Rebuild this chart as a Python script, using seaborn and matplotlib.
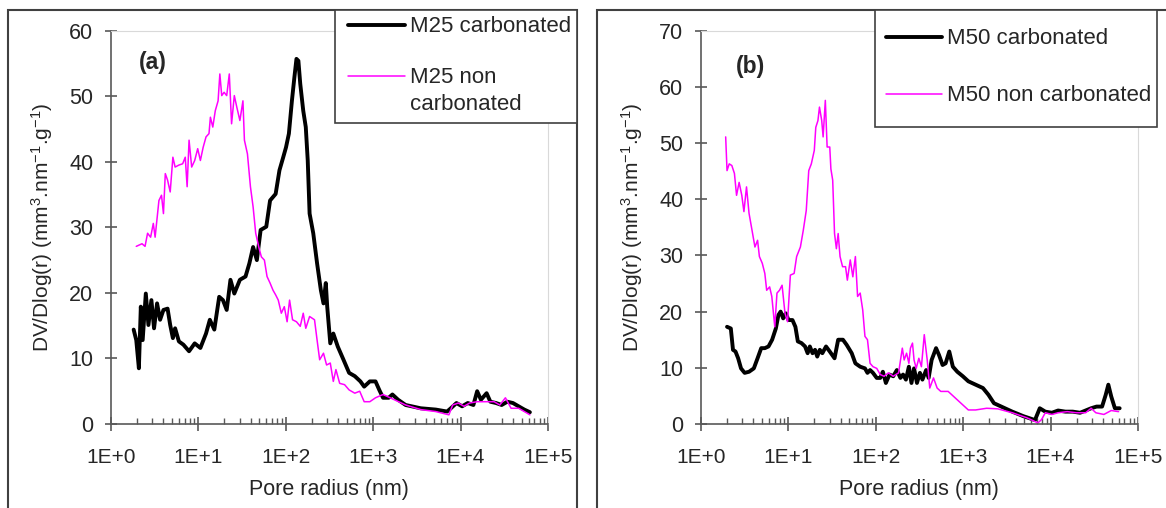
import matplotlib
matplotlib.use("Agg")
import matplotlib.pyplot as plt
from matplotlib.lines import Line2D
from matplotlib.patches import Rectangle
from matplotlib.ticker import FixedLocator, FuncFormatter, LogLocator, NullFormatter
import numpy as np
import pandas as pd
import seaborn as sns

# ---- data (pore radius in nm, DV/Dlog(r)) ----
m25_carb_radius = [1.83, 1.96, 2.10, 2.21, 2.32, 2.52, 2.70, 2.92, 3.13, 3.39, 3.67, 4.01, 4.47, 4.79,
                   5.14, 5.45, 6.02, 6.78, 7.87, 9.13, 10.6, 12.3, 13.6, 15.3, 17.4, 19.2, 21.2, 23.4,
                   25.9, 30.0, 34.8, 38.5, 42.5, 46.9, 51.8, 60.1, 66.4, 76.9, 85.0, 93.9, 101, 109,
                   118, 126, 133, 140, 147, 159, 170, 179, 188, 207, 229, 253, 271, 288, 299, 324,
                   351, 395, 459, 532, 618, 716, 791, 918, 1066, 1177, 1300, 1507, 1664, 1932, 2355,
                   3500, 5210, 7015, 7745, 8980, 10420, 12100, 14030, 15490, 17110, 19860, 21930,
                   25460, 29510, 34270, 39720, 46130, 53580, 62090]
m25_carb_dv = [14.4, 12.8, 8.5, 17.9, 12.8, 19.9, 15.1, 18.9, 14.6, 18.4, 15.9, 17.4, 17.6, 15.1,
               13.1, 14.6, 12.6, 12.1, 11.1, 12.3, 11.6, 13.8, 15.9, 14.4, 19.4, 18.9, 17.4, 22.0,
               19.9, 22.0, 22.5, 24.5, 27.0, 25.0, 29.6, 30.1, 34.1, 35.1, 38.7, 40.7, 42.2, 44.3,
               49.3, 52.9, 55.7, 55.4, 51.9, 47.8, 45.3, 40.2, 32.1, 29.1, 24.5, 20.4, 18.4, 21.5,
               17.9, 12.3, 13.8, 11.8, 9.8, 7.8, 7.3, 6.5, 5.7, 6.5, 6.5, 5.2, 4.0, 4.0, 4.5, 3.7,
               2.9, 2.4, 2.2, 1.9, 2.4, 3.2, 2.7, 3.2, 2.9, 5.0, 3.7, 4.7, 3.4, 3.2, 2.9, 3.4, 3.2,
               2.7, 2.2, 1.8]

m25_noncarb_radius = [1.96, 2.28, 2.47, 2.64, 2.86, 3.07, 3.22, 3.56, 3.81, 4.01, 4.21, 4.47, 4.79,
                      5.14, 5.45, 6.02, 6.65, 7.12, 7.48, 7.87, 8.43, 9.13, 9.88, 10.6, 11.4, 12.3,
                      13.3, 13.8, 14.7, 15.7, 16.9, 17.7, 18.6, 19.8, 21.2, 22.7, 24.1, 25.9, 27.7,
                      30.0, 32.5, 33.8, 36.6, 39.6, 42.5, 45.5, 49.3, 52.8, 57.2, 61.3, 66.4, 71.8,
                      76.9, 82.4, 89.3, 96.6, 104, 111, 120, 133, 147, 159, 170, 188, 214, 229, 245,
                      271, 294, 324, 351, 376, 415, 472, 532, 618, 703, 791, 918, 1066, 1300, 1750,
                      2355, 3500, 5210, 7360, 8130, 9440, 10960, 12710, 15490, 18880, 24210, 28110,
                      32590, 37840, 46130, 53580, 62090]
m25_noncarb_dv = [27.1, 27.5, 27.1, 29.1, 28.5, 30.6, 28.5, 34.1, 34.9, 32.1, 38.2, 37.2, 35.4,
                  40.7, 39.2, 39.5, 39.7, 40.7, 36.2, 43.3, 39.2, 40.2, 42.0, 40.2, 42.2, 43.8,
                  44.3, 46.8, 45.3, 47.8, 49.3, 53.4, 50.1, 50.6, 50.1, 53.4, 45.8, 50.1, 48.3,
                  46.3, 49.3, 43.3, 41.2, 36.2, 33.1, 29.1, 27.0, 25.5, 25.0, 22.5, 21.5, 20.4,
                  19.7, 18.9, 16.9, 17.9, 15.6, 18.9, 15.9, 15.6, 14.9, 16.9, 14.6, 16.4, 15.9,
                  12.8, 9.8, 10.8, 9.0, 9.3, 6.5, 8.3, 6.2, 6.0, 5.2, 4.7, 5.0, 3.4, 3.4, 4.0, 4.5,
                  3.7, 2.9, 2.2, 1.9, 1.4, 2.9, 3.2, 2.7, 3.2, 3.4, 3.4, 3.4, 2.9, 4.0, 2.4, 2.4,
                  1.9, 1.4]

m50_carb_radius = [2.00, 2.21, 2.34, 2.50, 2.68, 2.89, 3.18, 3.57, 4.05, 4.47, 4.92, 5.41, 5.96,
                   6.56, 7.23, 7.74, 8.20, 8.77, 9.38, 10.1, 11.2, 12.1, 12.9, 14.2, 15.6, 16.7,
                   17.7, 19.0, 20.3, 21.5, 23.0, 24.6, 27.1, 29.9, 33.9, 37.3, 42.3, 46.6, 53.3,
                   58.7, 66.6, 75.5, 80.7, 86.4, 93.3, 103, 113, 121, 131, 144, 159, 175, 192, 206,
                   222, 240, 257, 275, 297, 321, 343, 378, 404, 437, 491, 530, 583, 631, 695, 764,
                   859, 993, 1148, 1391, 1687, 1950, 2254, 2735, 3651, 4877, 6637, 7530, 8710,
                   10360, 12200, 14790, 17940, 21770, 25170, 29100, 33600, 38840, 42760, 45800,
                   49430, 54430, 61700]
m50_carb_dv = [17.3, 17.0, 13.2, 12.9, 11.7, 9.9, 9.1, 9.3, 9.9, 11.7, 13.5, 13.5, 13.8, 15.0,
               17.0, 19.4, 20.0, 18.8, 19.7, 18.5, 18.5, 17.3, 14.7, 14.4, 13.8, 12.6, 13.8, 12.6,
               13.2, 12.0, 13.2, 12.6, 13.8, 12.9, 11.7, 15.0, 15.0, 14.1, 12.6, 10.8, 10.2, 9.9,
               9.1, 9.6, 9.1, 8.2, 8.2, 9.3, 7.3, 8.8, 8.5, 9.6, 8.2, 8.8, 7.9, 10.2, 7.3, 9.9, 7.3,
               9.1, 7.9, 9.6, 8.2, 11.4, 13.5, 12.3, 10.5, 10.8, 12.9, 10.2, 9.3, 8.5, 7.6, 7.0,
               6.4, 5.2, 3.7, 3.1, 2.2, 1.4, 0.7, 2.8, 2.2, 2.0, 2.4, 2.2, 2.2, 2.0, 2.4, 2.8, 3.1,
               3.1, 5.2, 7.0, 4.9, 2.8, 2.8]

m50_noncarb_radius = [1.93, 2.00, 2.12, 2.27, 2.43, 2.57, 2.75, 2.95, 3.12, 3.34, 3.57, 3.86, 4.17,
                      4.47, 4.69, 5.06, 5.41, 5.68, 6.14, 6.50, 7.03, 7.45, 7.96, 8.52, 9.20, 9.84,
                      10.6, 11.7, 12.5, 13.8, 14.9, 16.1, 17.2, 18.4, 19.9, 20.7, 21.9, 22.8, 24.2,
                      25.1, 26.6, 27.9, 29.9, 30.8, 32.3, 33.9, 35.6, 37.3, 39.2, 41.9, 45.3, 47.5,
                      51.3, 54.9, 58.7, 62.2, 66.6, 71.2, 75.5, 80.7, 86.4, 93.3, 103, 113, 125, 140,
                      159, 183, 202, 212, 226, 240, 250, 264, 275, 291, 312, 334, 360, 389, 416, 459,
                      505, 556, 675, 780, 946, 1148, 1391, 1858, 2483, 3651, 5370, 7175, 7907, 8710,
                      10360, 12200, 15520, 19770, 25170, 29100, 32960, 40740, 49430, 59980]
m50_noncarb_dv = [51.1, 45.1, 46.3, 46.0, 44.6, 40.7, 43.0, 40.7, 37.8, 42.2, 37.5, 34.5, 31.5,
                  32.7, 29.8, 28.6, 26.8, 23.8, 24.4, 22.7, 17.3, 23.3, 23.8, 24.7, 19.7, 18.2,
                  26.5, 26.8, 29.8, 31.5, 34.5, 38.0, 45.1, 46.3, 48.7, 52.8, 54.0, 56.4, 54.0,
                  51.1, 57.6, 49.3, 49.3, 45.4, 43.4, 33.9, 31.2, 33.9, 29.8, 28.0, 28.0, 25.6,
                  29.2, 26.2, 29.8, 22.7, 23.3, 20.3, 15.6, 15.0, 10.8, 10.2, 9.9, 8.8, 8.5, 9.1,
                  8.5, 9.1, 13.5, 11.4, 12.6, 10.8, 13.5, 14.4, 11.4, 9.9, 11.7, 10.2, 15.9, 11.4,
                  6.4, 8.2, 6.4, 5.8, 5.8, 4.9, 3.7, 2.5, 2.5, 2.8, 2.7, 2.0, 1.1, 0.2, 0.8, 2.0,
                  1.7, 2.0, 2.2, 2.0, 2.0, 2.8, 2.0, 1.7, 2.4, 2.2]

x_decades = [1e0, 1e1, 1e2, 1e3, 1e4, 1e5]
panel_letters = ["(a)", "(b)"]
panel_ymax = [60, 70]
legend_labels = [["M25 carbonated", "M25 non\ncarbonated"], ["M50 carbonated", "M50 non carbonated"]]

CARB_COLOR = "black"
NONCARB_COLOR = "#FF00FF"
AXIS_GREY = "#595959"
FRAME_GREY = "#404040"
W, H = 1166, 508


def fig_rect(x0, y0, x1, y1):
    # pixel box (top-left origin) -> figure fraction rect
    return [x0 / W, 1 - y1 / H, (x1 - x0) / W, (y1 - y0) / H]


def style_axes(ax, ymax, letter, letter_pos):
    ax.set_xscale("log")
    ax.set_xlim(1, 1e5)
    ax.set_ylim(0, ymax)
    ax.set_yticks(range(0, ymax + 1, 10))
    ax.xaxis.set_major_locator(FixedLocator(x_decades))
    ax.xaxis.set_minor_locator(LogLocator(base=10, subs=range(2, 10), numticks=30))
    ax.xaxis.set_major_formatter(FuncFormatter(lambda v, pos: f"1E+{int(round(np.log10(v)))}"))
    ax.xaxis.set_minor_formatter(NullFormatter())
    ax.tick_params(axis="x", which="major", bottom=True, direction="inout", length=10, width=1.2,
                   color=AXIS_GREY, labelsize=15, pad=12)
    ax.tick_params(axis="x", which="minor", bottom=True, direction="in", length=4, width=1,
                   color=AXIS_GREY)
    ax.tick_params(axis="y", which="major", left=True, direction="inout", length=9, width=1.2,
                   color=AXIS_GREY, labelsize=15.5, pad=8)
    for side in ["left", "bottom"]:
        ax.spines[side].set_color(AXIS_GREY)
        ax.spines[side].set_linewidth(1.2)
    for side in ["top", "right"]:
        ax.spines[side].set_color("#d9d9d9")
        ax.spines[side].set_linewidth(0.8)
    ax.set_xlabel("Pore radius (nm)", fontsize=15.5, labelpad=9)
    ax.set_ylabel(r"DV/Dlog(r) (mm$^{3}$.nm$^{-1}$.g$^{-1}$)", fontsize=15, labelpad=10)
    ax.text(letter_pos[0], letter_pos[1], letter, transform=ax.transAxes, fontsize=16.5,
            fontweight="bold", ha="center", va="center")
    ax.grid(False)


def draw_legend(fig, box, rows):
    # Excel-style legend box drawn in figure pixels
    fig.add_artist(Rectangle((box[0] / W, 1 - box[3] / H), (box[2] - box[0]) / W,
                             (box[3] - box[1]) / H, transform=fig.transFigure,
                             facecolor="white", edgecolor=FRAME_GREY, linewidth=1.2, zorder=5))
    for color, lw, label, ypx, x0, x1 in rows:
        fig.add_artist(Line2D([x0 / W, x1 / W], [1 - ypx / H, 1 - ypx / H],
                              transform=fig.transFigure, color=color, linewidth=lw, zorder=6))
        fig.text((x1 + 5) / W, 1 - (ypx - 9) / H, label, fontsize=16, ha="left", va="top",
                 linespacing=1.35, zorder=6)


sns.set_style("white")
plt.rcParams["font.family"] = ["Liberation Sans", "DejaVu Sans"]
plt.rcParams["mathtext.fontset"] = "custom"
plt.rcParams["mathtext.rm"] = "Liberation Sans"
plt.rcParams["mathtext.it"] = "Liberation Sans:italic"
plt.rcParams["mathtext.bf"] = "Liberation Sans:bold"

fig = plt.figure(figsize=(W / 100, H / 100), dpi=100)
ax_a = fig.add_axes(fig_rect(110.7, 30.7, 548, 424))
ax_b = fig.add_axes(fig_rect(700.7, 30.7, 1138, 424))

panels = [
    (ax_a, m25_carb_radius, m25_carb_dv, m25_noncarb_radius, m25_noncarb_dv),
    (ax_b, m50_carb_radius, m50_carb_dv, m50_noncarb_radius, m50_noncarb_dv),
]
letter_positions = [(0.097, 0.918), (0.113, 0.908)]

for i, (ax, cr, cv, nr, nv) in enumerate(panels):
    carb = pd.DataFrame({"radius": cr, "dv": cv})
    noncarb = pd.DataFrame({"radius": nr, "dv": nv})
    sns.lineplot(data=carb, x="radius", y="dv", ax=ax, color=CARB_COLOR, linewidth=2.8,
                 estimator=None, sort=False, legend=False, solid_joinstyle="round")
    sns.lineplot(data=noncarb, x="radius", y="dv", ax=ax, color=NONCARB_COLOR, linewidth=1.1,
                 estimator=None, sort=False, legend=False, solid_joinstyle="round")
    style_axes(ax, panel_ymax[i], panel_letters[i], letter_positions[i])

# outer panel frames
fig.add_artist(Rectangle((8 / W, 1 - 515 / H), 569 / W, 505 / H, transform=fig.transFigure,
                         fill=False, edgecolor=FRAME_GREY, linewidth=1.5, zorder=4))
fig.add_artist(Rectangle((597 / W, 1 - 515 / H), 580 / W, 505 / H, transform=fig.transFigure,
                         fill=False, edgecolor=FRAME_GREY, linewidth=1.5, zorder=4))

draw_legend(fig, (335, 10, 577, 123), [
    (CARB_COLOR, 2.8, legend_labels[0][0], 25, 348, 405),
    (NONCARB_COLOR, 1.1, legend_labels[0][1], 76, 348, 405),
])
draw_legend(fig, (875, 10, 1157, 127), [
    (CARB_COLOR, 2.8, legend_labels[1][0], 37, 886, 942),
    (NONCARB_COLOR, 1.1, legend_labels[1][1], 94, 886, 942),
])

fig.savefig("out.png", dpi=100)
